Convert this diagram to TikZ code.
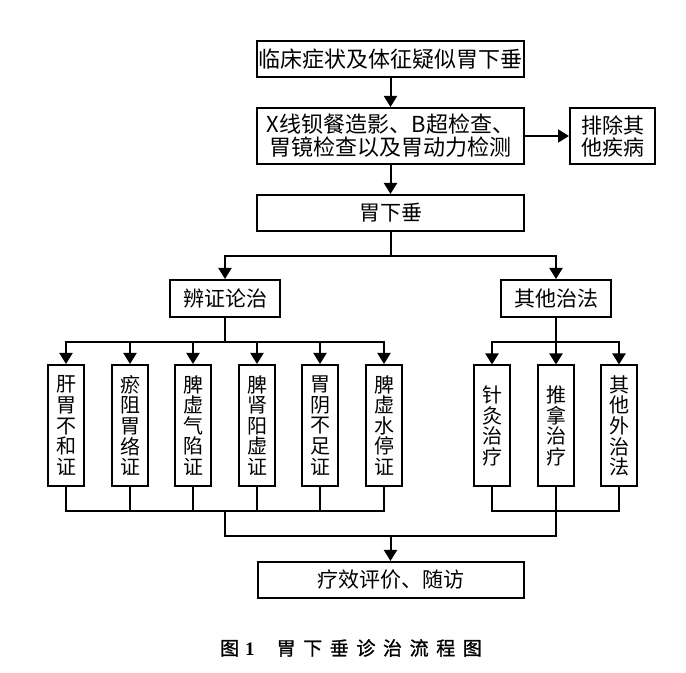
\documentclass[tikz,border=0pt]{standalone}
\usepackage{fontspec}
\setmainfont{Noto Sans CJK SC}
\newfontfamily\numfont{Liberation Serif}
\newfontfamily\capfont{Noto Sans CJK SC}[LetterSpace=40,FakeBold=1.2]
\usetikzlibrary{arrows.meta}

\begin{document}
\begin{tikzpicture}[x=0.5pt,y=-0.5pt,line width=1pt,
  arr/.style={-{Triangle[width=6.5pt,length=5.5pt]}},
  box/.style={draw,inner sep=0pt,align=center,font=\fontsize{10.5}{11}\selectfont},
  widebox/.style={box,minimum width=133.5pt,minimum height=18pt},
  vbox/.style={box,minimum width=18pt,minimum height=60.5pt,font=\fontsize{10}{10.3}\selectfont}]
\useasboundingbox (0,0) rectangle (686,673);
% top part
\node[widebox,font=\fontsize{11}{12}\selectfont] (sym) at (390.5,59) {临床症状及体征疑似胃下垂};
\node[widebox,minimum height=28pt,font=\fontsize{11}{11.5}\selectfont] (exam) at (390.5,136) {X线钡餐造影、B超检查、\\胃镜检查以及胃动力检测};
\node[box,minimum width=42.5pt,minimum height=28pt] (excl) at (612.5,136) {排除其\\他疾病};
\node[widebox] (gxc) at (390.5,213) {胃下垂};
\draw[arr] (sym) -- (exam);
\draw[arr] (exam) -- (excl);
\draw[arr] (exam) -- (gxc);
% two branches
\node[box,minimum width=55pt,minimum height=18.5pt] (bz) at (225,298.5) {辨证论治};
\node[box,minimum width=55pt,minimum height=18.5pt] (qt) at (556,298.5) {其他治法};
\coordinate (split) at (390.5,256);
\draw (gxc.south) -- (split);
\draw[arr] (split) -| (bz.north);
\draw[arr] (split) -| (qt.north);
\coordinate (bzsplit) at (225,342);
\coordinate (qtsplit) at (556,342);
\coordinate (bzjoin) at (225,511);
\coordinate (qtjoin) at (556,511);
\draw (bz.south) -- (bzsplit);
\draw (qt.south) -- (qtsplit);
\foreach \x/\t [count=\i] in {66/{肝\\胃\\不\\和\\证},130/{瘀\\阻\\胃\\络\\证},193/{脾\\虚\\气\\陷\\证},257/{脾\\肾\\阳\\虚\\证},320/{胃\\阴\\不\\足\\证},384/{脾\\虚\\水\\停\\证}}{
  \node[vbox] (b\i) at (\x,425.5) {\t};
  \draw[arr] (bzsplit) -| (b\i.north);
  \draw (b\i.south) |- (bzjoin);
}
\foreach \x/\t [count=\i] in {492/{针\\灸\\治\\疗},556/{推\\拿\\治\\疗},619/{其\\他\\外\\治\\法}}{
  \node[vbox] (q\i) at (\x,426) {\t};
  \draw[arr] (qtsplit) -| (q\i.north);
  \draw (q\i.south) |- (qtjoin);
}
% bottom
\node[widebox,minimum width=133pt] (follow) at (390.5,580) {疗效评价、随访};
\coordinate (join) at (390.5,536);
\draw (bzjoin) |- (join) -| (qtjoin);
\draw[arr] (join) -- (follow);
\node (cap) at (351,648) {\capfont\fontsize{9.5}{10}\selectfont 图\hspace{3pt}{\numfont\bfseries 1}\hspace{11pt}胃下垂诊治流程图};
\end{tikzpicture}
\end{document}
